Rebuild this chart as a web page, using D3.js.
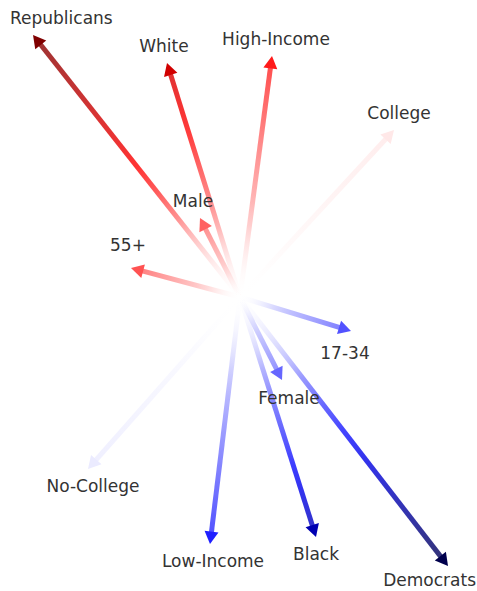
<!DOCTYPE html>
<html>
<head>
<meta charset="utf-8">
<script src="https://cdn.jsdelivr.net/npm/d3@7"></script>
<style>
html,body{margin:0;padding:0;background:#fff;}
svg{display:block;}
</style>
</head>
<body>
<svg id="chart" width="477" height="591"></svg>
<script>
// ---- data ----
const labels = ["Republicans","White","High-Income","College","Male","55+","17-34","Female","No-College","Low-Income","Black","Democrats"];
const xValues = [-2.07,-0.73, 0.32, 1.54,-0.40,-1.09, 1.11, 0.42,-1.52,-0.30, 0.76, 2.08];
const yValues = [ 2.62, 2.34, 2.41, 1.67, 0.79, 0.29,-0.34,-0.83,-1.72,-2.47,-2.40,-2.69];
const leanValues = [1.0, 0.68, 0.45, 0.045, 0.31, 0.34,-0.34,-0.30,-0.04,-0.44,-0.68,-0.92];

// ---- layout (not data) ----
const W = 477, H = 591;
const labelNudge = {
  "Republicans":[0,0], "White":[-3,0], "High-Income":[4,0], "College":[5,0],
  "Male":[-7,0], "55+":[-3,-6], "17-34":[-6,5], "Female":[7,1],
  "No-College":[5,0], "Low-Income":[3,0], "Black":[0,0], "Democrats":[0,-3]
};

const x = d3.scaleLinear().domain([-2.40, 2.37]).range([0, W]);
const y = d3.scaleLinear().domain([2.97, -2.94]).range([0, H]);
const color = d3.scaleLinear()
  .domain([-1, -0.5, 0, 0.5, 1])
  .range(["#00002a", "#0000ff", "#ffffff", "#ff0000", "#800000"])
  .interpolate(d3.interpolateRgb);

const data = labels.map((l, i) => ({label: l, x: xValues[i], y: yValues[i], v: leanValues[i]}));

const svg = d3.select("#chart");
const defs = svg.append("defs");
const cx = x(0), cy = y(0);
const headLen = 12.5, headHalf = 7;

data.forEach((d, i) => {
  const tx = x(d.x), ty = y(d.y);
  const g = defs.append("linearGradient")
    .attr("id", "grad" + i)
    .attr("gradientUnits", "userSpaceOnUse")
    .attr("x1", cx).attr("y1", cy).attr("x2", tx).attr("y2", ty);
  d3.range(0, 1.0001, 0.1).forEach(t => {
    g.append("stop").attr("offset", t)
      .attr("stop-color", color(d.v * t))
      .attr("stop-opacity", Math.min(1, t * 3));
  });
});

const arrows = svg.append("g");
data.forEach((d, i) => {
  const tx = x(d.x), ty = y(d.y);
  const dx = tx - cx, dy = ty - cy;
  const len = Math.hypot(dx, dy);
  const ux = dx / len, uy = dy / len;
  const bx = tx - ux * headLen, by = ty - uy * headLen;
  arrows.append("line")
    .attr("x1", cx).attr("y1", cy)
    .attr("x2", bx + ux * 1).attr("y2", by + uy * 1)
    .attr("stroke", `url(#grad${i})`)
    .attr("stroke-width", 5)
    .attr("stroke-opacity", 0.8);
  const px = -uy, py = ux;
  arrows.append("path")
    .attr("d", `M${tx},${ty}L${bx + px*headHalf},${by + py*headHalf}L${bx - px*headHalf},${by - py*headHalf}Z`)
    .attr("fill", color(d.v));
});

const textG = svg.append("g")
  .attr("font-family", "DejaVu Sans, sans-serif")
  .attr("font-size", 17)
  .attr("fill", "#333333");

data.forEach(d => {
  const tx = x(d.x), ty = y(d.y);
  const nudge = labelNudge[d.label] || [0, 0];
  const t = textG.append("text")
    .attr("text-anchor", "middle")
    .text(d.label);
  const w = t.node().getComputedTextLength();
  let lx = tx + nudge[0];
  lx = Math.max(10 + w / 2, Math.min(W - 1 - w / 2, lx));
  const ly = (d.y > 0 ? ty - 11 : ty + 23) + nudge[1];
  t.attr("x", lx).attr("y", ly);
});
</script>
</body>
</html>
